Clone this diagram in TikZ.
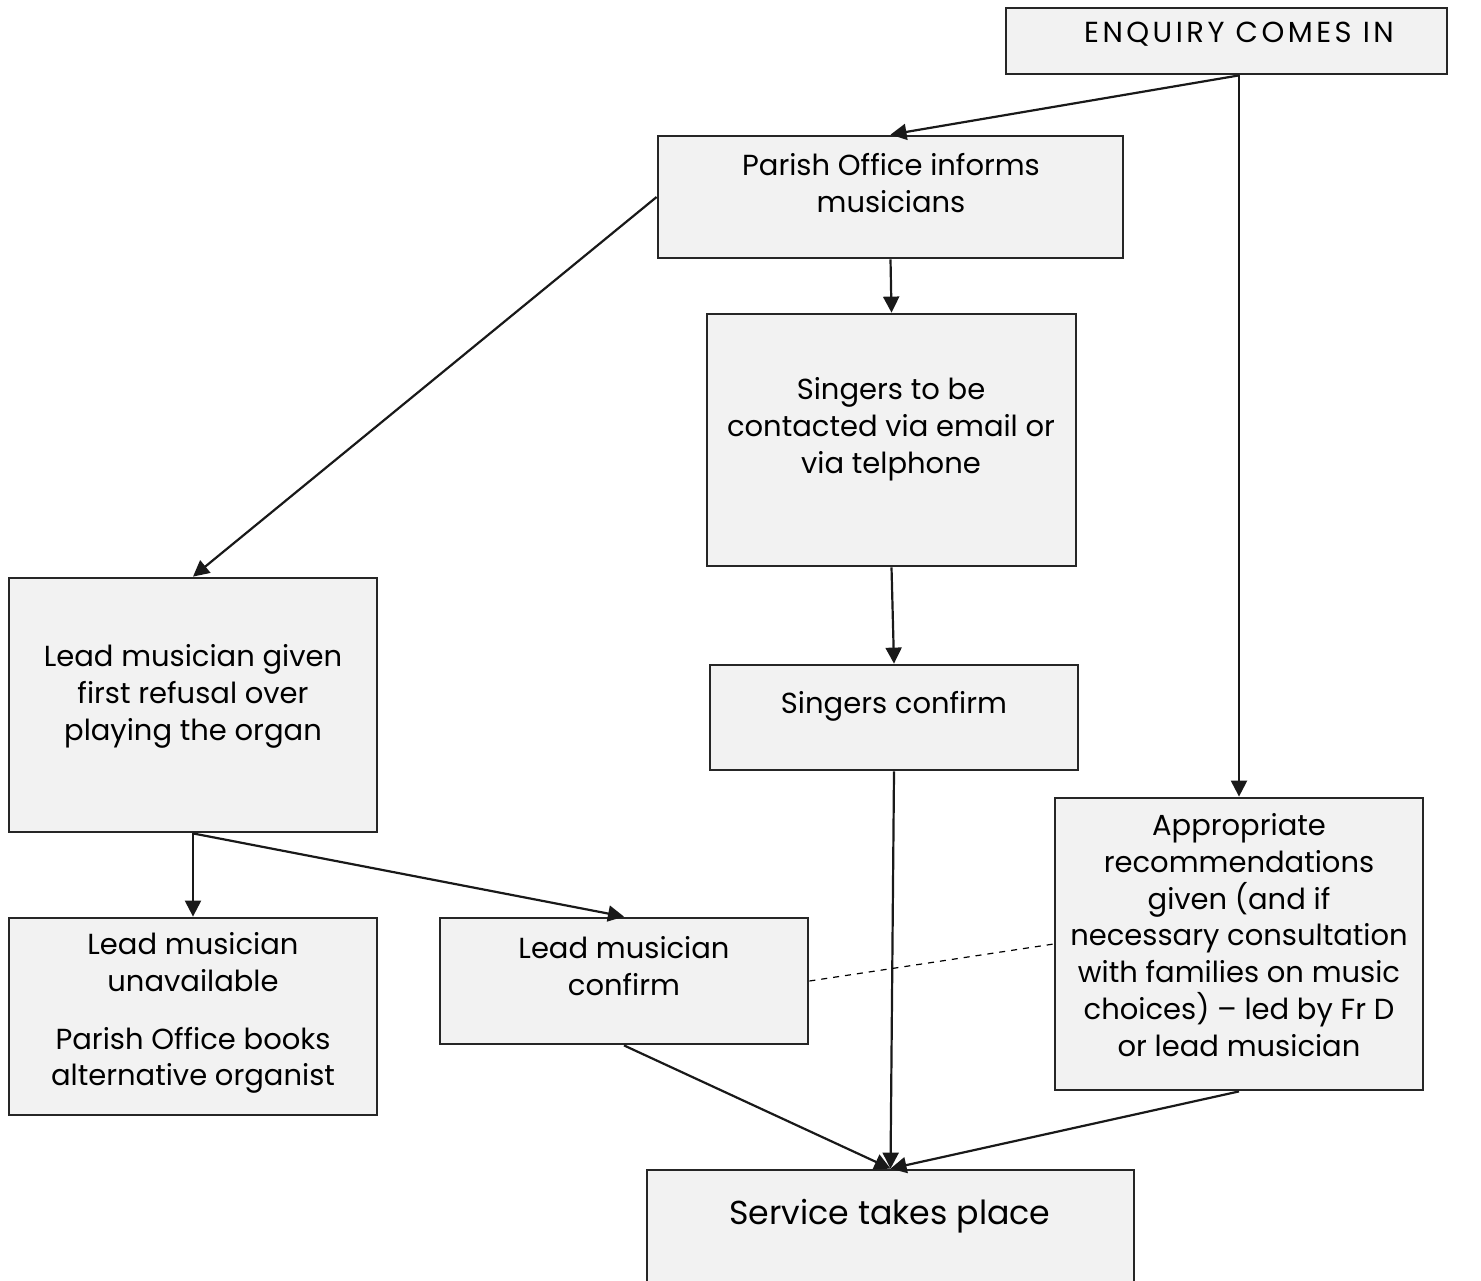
\documentclass[tikz,border=0pt]{standalone}
\usepackage{fontspec}
\setmainfont{Poppins}
\usepackage{tikz}
\usetikzlibrary{positioning,arrows.meta}

\begin{document}
\begin{tikzpicture}[
    % one unit = one pixel of the sheet
    x = 0.5pt, y = -0.5pt,
    font = \fontsize{14.5}{18.4}\selectfont,
    box/.style={rectangle, fill=gray!10, draw=black!85, line width=1.4pt, inner sep=0pt},
    txt/.style={align=center, inner sep=0pt, anchor=north},
    arr/.style={-{Triangle[length=8pt, width=8pt]}, line width=1.1pt, black!90},
]
\useasboundingbox (0,0) rectangle (1481,1280);

% Main boxes
\node[box, minimum width=220.5pt, minimum height=33pt] (enq) at (1226.5,41) {};
\node[box, minimum width=232.5pt, minimum height=61pt] (parish) at (890.5,197) {};
\node[box, minimum width=184.5pt, minimum height=126pt] (sing) at (891.5,440) {};
\node[box, minimum width=184pt, minimum height=52.5pt] (singConf) at (894,717.5) {};
\node[box, minimum width=184pt, minimum height=127pt] (lead) at (193,705) {};
\node[box, minimum width=184pt, minimum height=98.5pt] (unavail) at (193,1016.5) {};
\node[box, minimum width=184pt, minimum height=63pt] (leadConf) at (624,981) {};
\node[box, minimum width=184pt, minimum height=146pt] (appr) at (1239,944) {};
\node[box, minimum width=243.5pt, minimum height=65pt] (service) at (890.5,1235) {};

% Texts
\node[txt] (enqT) at (1239,22) {\addfontfeatures{LetterSpace=12}ENQUIRY COMES IN};
\node[txt] (parishT) at (891,153) {Parish Office informs\\musicians};
\node[txt] (singT) at (891,377) {Singers to be\\contacted via email or\\via telphone};
\node[txt] (singConfT) at (894,691) {Singers confirm};
\node[txt] (leadT) at (193,644) {Lead musician given\\first refusal over\\playing the organ};
\node[txt] (unavailT) at (193,932) {Lead musician\\unavailable\\[10.5pt]Parish Office books\\alternative organist};
\node[txt] (leadConfT) at (624,936) {Lead musician\\confirm};
\node[txt] (apprT) at (1239,813) {Appropriate\\recommendations\\given (and if\\necessary consultation\\with families on music\\choices) – led by Fr D\\or lead musician};
\node[txt, font=\fontsize{16.6}{20}\selectfont] (serviceT) at (890,1199) {Service takes place};

% Arrows
\draw[arr] (enq.south -| appr.north) -- (parish.north);
\draw[arr] (enq.south -| appr.north) -- (appr.north);
\draw[arr] (parish.west) -- (lead.north);
\draw[arr] (parish.south) -- (sing.north);
\draw[arr] (sing.south) -- (singConf.north);
\draw[arr] (lead.south) -- (unavail.north);
\draw[arr] (lead.south) -- (leadConf.north);
\draw[arr] (singConf.south) -- (service.north);
\draw[arr] (leadConf.south) -- (service.north);
\draw[arr] (appr.south) -- (service.north);
\draw[dashed, line width=0.6pt] (leadConf.east) -- (appr.west);

\end{tikzpicture}
\end{document}
